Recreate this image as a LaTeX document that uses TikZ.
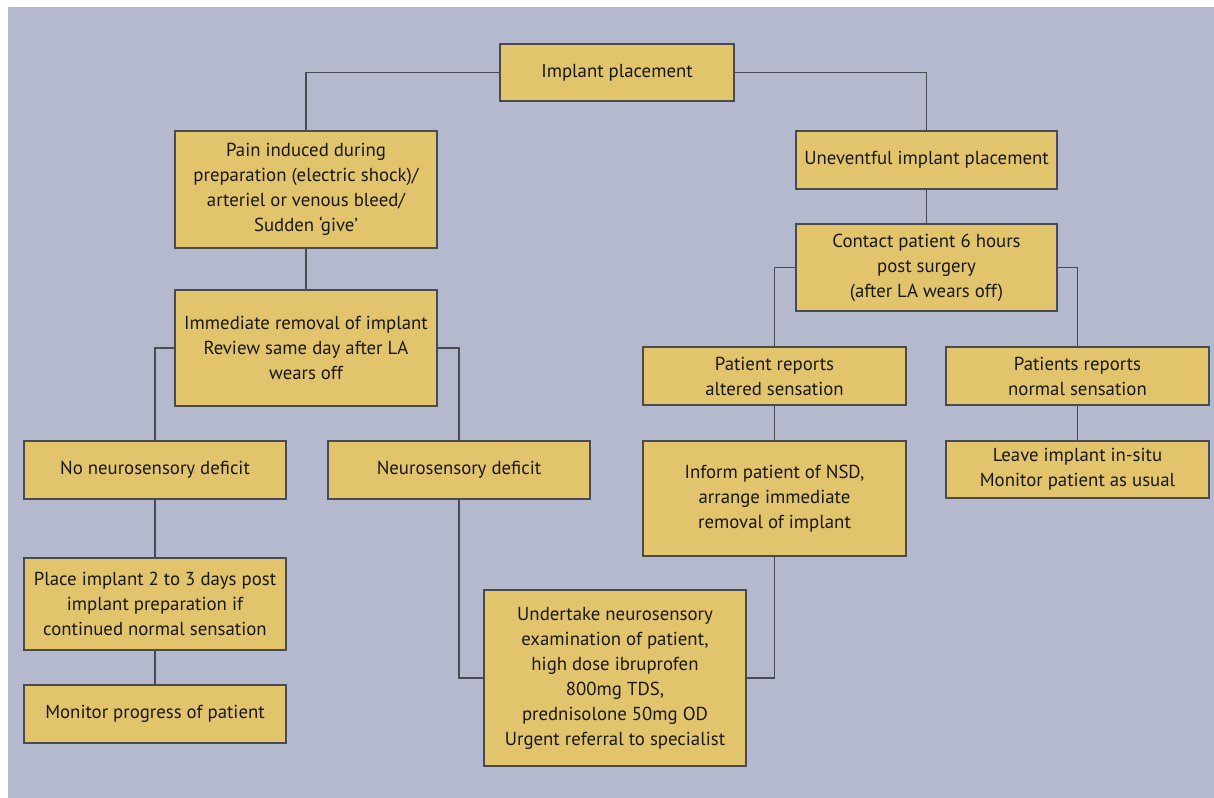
\documentclass[tikz,border=0pt]{standalone}
\usepackage{fontspec}
\setmainfont{PT Sans}
\definecolor{bgc}{HTML}{B4B9CE}
\definecolor{boxc}{HTML}{E1C46C}
\definecolor{linec}{HTML}{4A4A52}
\begin{document}
\begin{tikzpicture}[x=0.75pt,y=-0.75pt,
  box/.style={draw=linec, line width=1.1pt, fill=boxc, align=center, inner sep=2pt,
    font=\fontsize{14.1}{18.75}\selectfont, text=black!90,
    execute at begin node={\vspace*{3pt}}},
  sz/.style 2 args={minimum width=#1*0.75pt, minimum height=#2*0.75pt},
  conn/.style={draw=linec, line width=1.1pt}]
\useasboundingbox (0,0) rectangle (1214,798);
\fill[white] (0,0) rectangle (1214,798);
\fill[bgc] (8,7) rectangle (1214,798);

\node[box, sz={234}{57}] (ip) at (617,72.5) {Implant placement};
\node[box, sz={262}{117}] (pain) at (306,189.5) {Pain induced during\\preparation (electric shock)/\\arteriel or venous bleed/\\Sudden ‘give’};
\node[box, sz={261}{58}] (unev) at (926.5,160) {Uneventful implant placement};
\node[box, sz={261}{87}] (contact) at (926.5,267.5) {Contact patient 6 hours\\post surgery\\(after LA wears off)};
\node[box, sz={262}{116}] (immed) at (306,348) {Immediate removal of implant\\Review same day after LA\\wears off};
\node[box, sz={263}{58}] (alt) at (774.5,376) {Patient reports\\altered sensation};
\node[box, sz={263}{58}] (norm) at (1077.5,376) {Patients reports\\normal sensation};
\node[box, sz={262}{58}] (noneuro) at (155,470) {No neurosensory deficit};
\node[box, sz={262}{58}] (neuro) at (459,470) {Neurosensory deficit};
\node[box, sz={263}{115}] (inform) at (774.5,498.5) {Inform patient of NSD,\\arrange immediate\\removal of implant};
\node[box, sz={263}{57}] (leave) at (1077.5,469.5) {Leave implant in-situ\\Monitor patient as usual};
\node[box, sz={262}{92}] (place) at (155,604) {Place implant 2 to 3 days post\\implant preparation if\\continued normal sensation};
\node[box, sz={262}{176}] (under) at (615,678) {Undertake neurosensory\\examination of patient,\\high dose ibruprofen\\800mg TDS,\\prednisolone 50mg OD\\Urgent referral to specialist};
\node[box, sz={262}{58}] (mon) at (155,714) {Monitor progress of patient};

\draw[conn] (ip.west) -| (pain.north);
\draw[conn] (ip.east) -| (unev.north);
\draw[conn] (unev.south) -- (contact.north);
\draw[conn] (contact.west) -| (alt.north);
\draw[conn] (contact.east) -| (norm.north);
\draw[conn] (pain.south) -- (immed.north);
\draw[conn] (immed.west) -| (noneuro.north);
\draw[conn] (immed.east) -| (neuro.north);
\draw[conn] (noneuro.south) -- (place.north);
\draw[conn] (place.south) -- (mon.north);
\draw[conn] (neuro.south) |- (under.west);
\draw[conn] (inform.south) |- (under.east);
\draw[conn] (alt.south) -- (inform.north);
\draw[conn] (norm.south) -- (leave.north);
\end{tikzpicture}
\end{document}
